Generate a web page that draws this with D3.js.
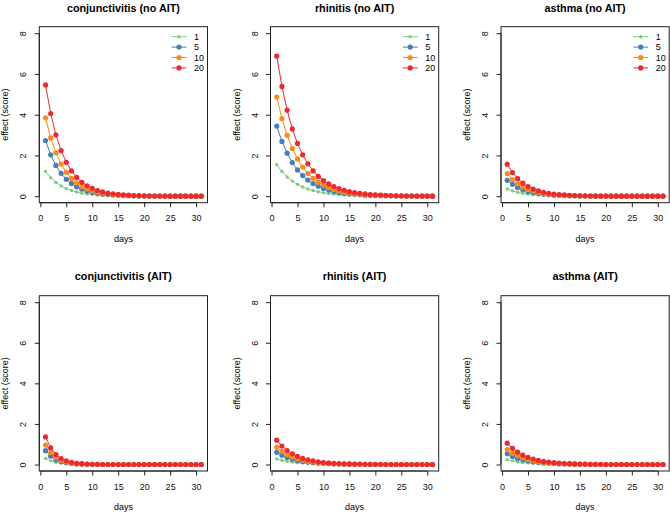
<!DOCTYPE html>
<html>
<head>
<meta charset="utf-8">
<script src="https://cdn.jsdelivr.net/npm/d3@7"></script>
<style>
  html, body { margin: 0; padding: 0; background: #fff; }
  svg { display: block; font-family: "Liberation Sans", Arial, Helvetica, sans-serif; }
</style>
</head>
<body>
<svg id="chart" width="670" height="513"></svg>
<script>
// ---------------- data ----------------
const days = [1,2,3,4,5,6,7,8,9,10,11,12,13,14,15,16,17,18,19,20,21,22,23,24,25,26,27,28,29,30,31];
const doses = ["1", "5", "10", "20"];
const seriesColors = ["#7FCA7F", "#3F80BD", "#FF8A12", "#EC2A2E"];
const panelTitles = ["conjunctivitis (no AIT)", "rhinitis (no AIT)", "asthma (no AIT)",
                     "conjunctivitis (AIT)", "rhinitis (AIT)", "asthma (AIT)"];
const xTicks = [0, 5, 10, 15, 20, 25, 30];
const yTicks = [0, 2, 4, 6, 8];
const xLabel = "days";
const yLabel = "effect (score)";

// conjunctivitis (no AIT)
const conjNoAIT_1  = [1.22,0.91,0.67,0.50,0.37,0.28,0.21,0.15,0.11,0.08, 0.06,0.05,0.03,0.03,0.02,0.01,0.01,0.01,0.01,0, 0,0,0,0,0,0,0,0,0,0,0];
const conjNoAIT_5  = [2.73,2.03,1.51,1.12,0.83,0.62,0.46,0.34,0.25,0.19, 0.14,0.10,0.08,0.06,0.04,0.03,0.02,0.02,0.01,0.01, 0.01,0.01,0,0,0,0,0,0,0,0,0];
const conjNoAIT_10 = [3.85,2.86,2.13,1.58,1.17,0.87,0.65,0.48,0.36,0.27, 0.20,0.15,0.11,0.08,0.06,0.04,0.03,0.02,0.02,0.01, 0.01,0.01,0.01,0,0,0,0,0,0,0,0];
const conjNoAIT_20 = [5.46,4.06,3.01,2.24,1.66,1.24,0.92,0.68,0.51,0.38, 0.28,0.21,0.15,0.11,0.09,0.06,0.05,0.03,0.03,0.02, 0.01,0.01,0.01,0.01,0,0,0,0,0,0,0];
// rhinitis (no AIT)
const rhinNoAIT_1  = [1.54,1.21,0.94,0.74,0.58,0.45,0.35,0.28,0.22,0.17, 0.13,0.10,0.08,0.06,0.05,0.04,0.03,0.02,0.02,0.01, 0.01,0.01,0.01,0.01,0,0,0,0,0,0,0];
const rhinNoAIT_5  = [3.44,2.69,2.11,1.65,1.29,1.01,0.79,0.62,0.49,0.38, 0.30,0.23,0.18,0.14,0.11,0.09,0.07,0.05,0.04,0.03, 0.03,0.02,0.02,0.01,0.01,0.01,0.01,0,0,0,0];
const rhinNoAIT_10 = [4.87,3.81,2.99,2.34,1.83,1.43,1.12,0.88,0.69,0.54, 0.42,0.33,0.26,0.20,0.16,0.12,0.10,0.08,0.06,0.05, 0.04,0.03,0.02,0.02,0.01,0.01,0.01,0.01,0.01,0,0];
const rhinNoAIT_20 = [6.88,5.39,4.22,3.30,2.59,2.03,1.59,1.24,0.97,0.76, 0.60,0.47,0.37,0.29,0.22,0.17,0.14,0.11,0.08,0.07, 0.05,0.04,0.03,0.02,0.02,0.01,0.01,0.01,0.01,0.01,0];
// asthma (no AIT)
const asthNoAIT_1  = [0.35,0.26,0.19,0.14,0.10,0.08,0.06,0.04,0.03,0.02, 0.02,0.01,0.01,0.01,0,0,0,0,0,0, 0,0,0,0,0,0,0,0,0,0,0];
const asthNoAIT_5  = [0.78,0.58,0.43,0.32,0.23,0.17,0.13,0.09,0.07,0.05, 0.04,0.03,0.02,0.02,0.01,0.01,0.01,0,0,0, 0,0,0,0,0,0,0,0,0,0,0];
const asthNoAIT_10 = [1.11,0.82,0.61,0.45,0.33,0.25,0.18,0.13,0.10,0.07, 0.05,0.04,0.03,0.02,0.02,0.01,0.01,0.01,0,0, 0,0,0,0,0,0,0,0,0,0,0];
const asthNoAIT_20 = [1.57,1.16,0.86,0.64,0.47,0.35,0.26,0.19,0.14,0.10, 0.08,0.06,0.04,0.03,0.02,0.02,0.01,0.01,0.01,0.01, 0,0,0,0,0,0,0,0,0,0,0];
// conjunctivitis (AIT)
const conjAIT_1  = [0.30,0.18,0.11,0.06,0.04,0.02,0.01,0.01,0,0, 0,0,0,0,0,0,0,0,0,0, 0,0,0,0,0,0,0,0,0,0,0];
const conjAIT_5  = [0.68,0.41,0.24,0.15,0.09,0.05,0.03,0.02,0.01,0.01, 0,0,0,0,0,0,0,0,0,0, 0,0,0,0,0,0,0,0,0,0,0];
const conjAIT_10 = [0.96,0.58,0.35,0.21,0.12,0.07,0.04,0.03,0.02,0.01, 0.01,0,0,0,0,0,0,0,0,0, 0,0,0,0,0,0,0,0,0,0,0];
const conjAIT_20 = [1.36,0.82,0.49,0.29,0.18,0.11,0.06,0.04,0.02,0.01, 0.01,0,0,0,0,0,0,0,0,0, 0,0,0,0,0,0,0,0,0,0,0];
// rhinitis (AIT)
const rhinAIT_1  = [0.27,0.21,0.16,0.12,0.09,0.07,0.05,0.04,0.03,0.02, 0.02,0.01,0.01,0.01,0,0,0,0,0,0, 0,0,0,0,0,0,0,0,0,0,0];
const rhinAIT_5  = [0.60,0.46,0.35,0.26,0.20,0.15,0.12,0.09,0.07,0.05, 0.04,0.03,0.02,0.02,0.01,0.01,0.01,0,0,0, 0,0,0,0,0,0,0,0,0,0,0];
const rhinAIT_10 = [0.85,0.65,0.49,0.37,0.28,0.22,0.16,0.12,0.09,0.07, 0.05,0.04,0.03,0.02,0.02,0.01,0.01,0.01,0.01,0, 0,0,0,0,0,0,0,0,0,0,0];
const rhinAIT_20 = [1.20,0.91,0.69,0.53,0.40,0.30,0.23,0.18,0.13,0.10, 0.08,0.06,0.05,0.03,0.03,0.02,0.02,0.01,0.01,0.01, 0.01,0,0,0,0,0,0,0,0,0,0];
// asthma (AIT)
const asthAIT_1  = [0.24,0.18,0.14,0.10,0.08,0.06,0.05,0.03,0.03,0.02, 0.02,0.01,0.01,0.01,0,0,0,0,0,0, 0,0,0,0,0,0,0,0,0,0,0];
const asthAIT_5  = [0.53,0.40,0.30,0.23,0.18,0.13,0.10,0.08,0.06,0.05, 0.03,0.03,0.02,0.01,0.01,0.01,0,0,0,0, 0,0,0,0,0,0,0,0,0,0,0];
const asthAIT_10 = [0.74,0.56,0.43,0.33,0.25,0.19,0.14,0.11,0.08,0.06, 0.05,0.04,0.03,0.02,0.02,0.01,0.01,0.01,0,0, 0,0,0,0,0,0,0,0,0,0,0];
const asthAIT_20 = [1.05,0.80,0.61,0.46,0.35,0.27,0.20,0.15,0.12,0.09, 0.07,0.05,0.04,0.03,0.02,0.02,0.01,0.01,0.01,0, 0,0,0,0,0,0,0,0,0,0,0];

const panelSeries = [
  [conjNoAIT_1, conjNoAIT_5, conjNoAIT_10, conjNoAIT_20],
  [rhinNoAIT_1, rhinNoAIT_5, rhinNoAIT_10, rhinNoAIT_20],
  [asthNoAIT_1, asthNoAIT_5, asthNoAIT_10, asthNoAIT_20],
  [conjAIT_1, conjAIT_5, conjAIT_10, conjAIT_20],
  [rhinAIT_1, rhinAIT_5, rhinAIT_10, rhinAIT_20],
  [asthAIT_1, asthAIT_5, asthAIT_10, asthAIT_20]
];

// ---------------- layout ----------------
const colLeft = [39.3, 270.5, 501];
const boxW = 168.2;
const rowTop = [26.7, 295.7];
const rowH = [176, 175.3];
const titleY = [8.3, 275.7];

const svg = d3.select("#chart");
svg.append("rect").attr("width", 670).attr("height", 513).attr("fill", "#fff");

panelSeries.forEach((series, pi) => {
  const col = pi % 3, row = Math.floor(pi / 3);
  const L = colLeft[col], T = rowTop[row], W = boxW, H = rowH[row];
  const x = d3.scaleLinear().domain([-0.2, 32.2]).range([L, L + W]);
  const y = d3.scaleLinear().domain([-0.32, 8.32]).range([T + H, T]);
  const g = svg.append("g");

  // series (green first, red last on top)
  series.forEach((vals, si) => {
    const pts = days.map((d, i) => [d, vals[i]]);
    const line = d3.line().x(d => x(d[0])).y(d => y(d[1]));
    g.append("path").attr("d", line(pts)).attr("fill", "none")
      .attr("stroke", seriesColors[si]).attr("stroke-width", 1);
    g.selectAll(null).data(pts).enter().append("circle")
      .attr("cx", d => x(d[0])).attr("cy", d => y(d[1]))
      .attr("r", si === 0 ? 1.7 : 2.6)
      .attr("fill", seriesColors[si]);
  });

  // box
  g.append("rect").attr("x", L).attr("y", T).attr("width", W).attr("height", H)
    .attr("fill", "none").attr("stroke", "#222").attr("stroke-width", 1);

  // x axis
  const xAxis = d3.axisBottom(x).tickValues(xTicks).tickSize(4.5).tickPadding(3).tickFormat(d3.format("d"));
  const gx = g.append("g").attr("transform", `translate(0,${T + H})`).call(xAxis);
  gx.select(".domain").attr("d", `M${x(0)},0H${x(30)}`).attr("stroke", "#222");
  gx.selectAll(".tick line").attr("stroke", "#222");
  gx.selectAll("text").attr("font-size", 9).attr("fill", "#111")
    .attr("font-family", "Liberation Sans, Arial, sans-serif").attr("dy", null)
    .attr("y", 15.5).attr("dominant-baseline", "central");

  // y axis
  const yAxis = d3.axisLeft(y).tickValues(yTicks).tickSize(4.5).tickFormat(d3.format("d"));
  const gy = g.append("g").attr("transform", `translate(${L},0)`).call(yAxis);
  gy.select(".domain").attr("d", `M0,${y(0)}V${y(8)}`).attr("stroke", "#222");
  gy.selectAll(".tick line").attr("stroke", "#222");
  gy.selectAll("text").attr("font-size", 9).attr("fill", "#111")
    .attr("font-family", "Liberation Sans, Arial, sans-serif")
    .attr("x", null).attr("dy", null)
    .attr("text-anchor", "middle").attr("dominant-baseline", "central")
    .attr("transform", "translate(-16,0) rotate(-90)");

  // title
  g.append("text").attr("x", L + W / 2).attr("y", titleY[row])
    .attr("text-anchor", "middle").attr("dominant-baseline", "central")
    .attr("font-size", 10.8).attr("font-weight", "bold").attr("fill", "#000")
    .text(panelTitles[pi]);

  // axis labels
  g.append("text").attr("x", L + W / 2).attr("y", T + H + 36.3)
    .attr("text-anchor", "middle").attr("dominant-baseline", "central")
    .attr("font-size", 9).attr("fill", "#000").text(xLabel);
  g.append("text")
    .attr("transform", `translate(${L - 34},${T + H / 2}) rotate(-90)`)
    .attr("text-anchor", "middle").attr("dominant-baseline", "central")
    .attr("font-size", 9).attr("fill", "#000").text(yLabel);

  // legend on top row
  if (row === 0) {
    const R = L + W;
    doses.forEach((lab, si) => {
      const ly = T + 10 + si * 10.4;
      g.append("line").attr("x1", R - 36).attr("x2", R - 21).attr("y1", ly).attr("y2", ly)
        .attr("stroke", seriesColors[si]).attr("stroke-width", 1);
      g.append("circle").attr("cx", R - 28.5).attr("cy", ly)
        .attr("r", si === 0 ? 1.7 : 2.6).attr("fill", seriesColors[si]);
      g.append("text").attr("x", R - 13.5).attr("y", ly)
        .attr("dominant-baseline", "central").attr("font-size", 9).attr("fill", "#000")
        .text(lab);
    });
  }
});
</script>
</body>
</html>
